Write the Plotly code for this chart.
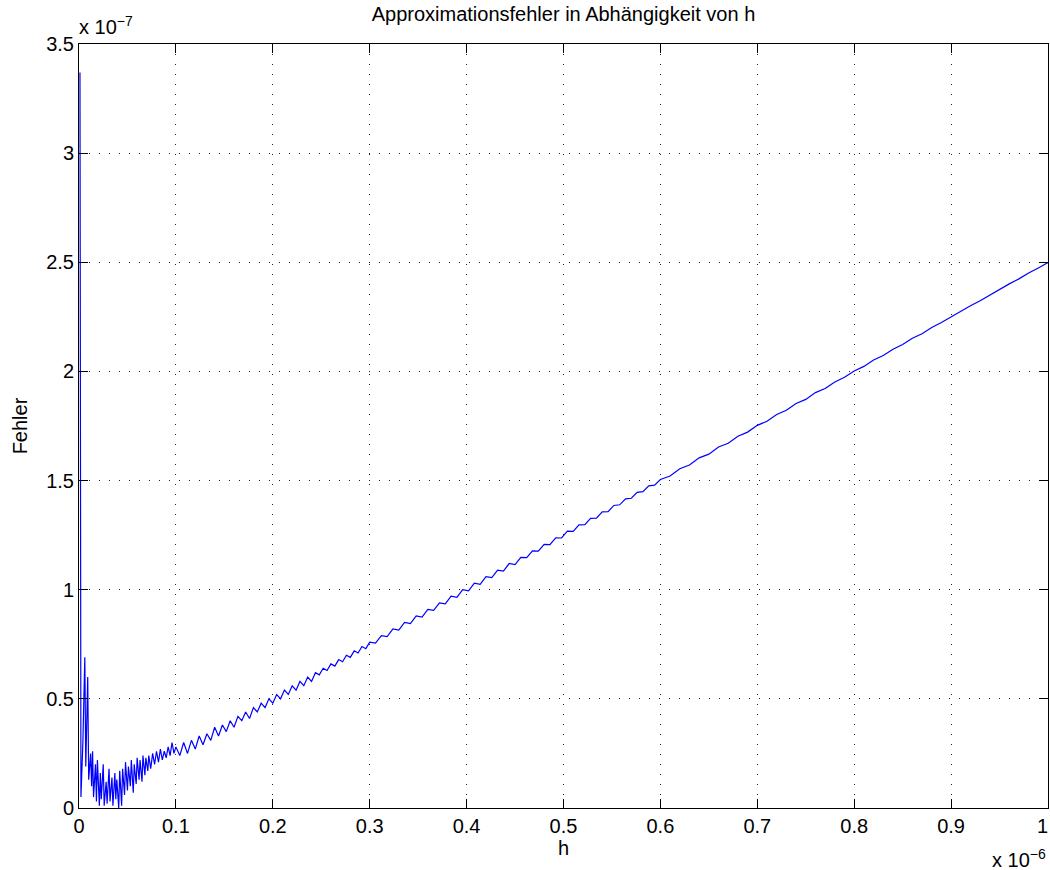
import plotly.graph_objects as go

# h values (x 1e-6) and error values (x 1e-7)
h_noisy = [0.001, 0.002, 0.004, 0.006, 0.007, 0.009, 0.010, 0.012, 0.013, 0.014,
           0.015, 0.017, 0.018, 0.019, 0.021, 0.022, 0.023, 0.025, 0.026, 0.028,
           0.029, 0.031, 0.032, 0.034, 0.035, 0.037, 0.038, 0.039, 0.041, 0.042,
           0.044, 0.045, 0.047, 0.048, 0.050, 0.051, 0.053, 0.054, 0.056, 0.057,
           0.059, 0.060, 0.062, 0.063, 0.065, 0.066, 0.068, 0.069, 0.071, 0.072,
           0.074, 0.076, 0.078, 0.080, 0.082, 0.084, 0.086, 0.088, 0.090, 0.092,
           0.094, 0.096, 0.098]
f_noisy = [3.37, 0.05, 0.30, 0.69, 0.19, 0.60, 0.13, 0.25, 0.10, 0.26,
           0.05, 0.20, 0.03, 0.22, 0.01, 0.16, 0.04, 0.20, 0.01, 0.12,
           0.02, 0.18, 0.03, 0.14, 0.01, 0.16, 0.04, 0.13, 0.00, 0.17,
           0.01, 0.18, 0.06, 0.21, 0.08, 0.19, 0.10, 0.22, 0.07, 0.20,
           0.11, 0.23, 0.13, 0.22, 0.12, 0.24, 0.15, 0.23, 0.17, 0.24,
           0.18, 0.25, 0.20, 0.26, 0.21, 0.27, 0.22, 0.26, 0.23, 0.28,
           0.24, 0.30, 0.25]

h_mid = [0.100, 0.104, 0.108, 0.112, 0.116, 0.120, 0.124, 0.128, 0.132, 0.136,
         0.140, 0.144, 0.148, 0.152, 0.156, 0.160, 0.164, 0.168, 0.172, 0.176,
         0.180, 0.184, 0.188, 0.192, 0.196, 0.200, 0.204, 0.208, 0.212, 0.216,
         0.220, 0.224, 0.228, 0.232, 0.236, 0.240, 0.244, 0.248, 0.252, 0.256,
         0.260, 0.264, 0.268, 0.272, 0.276, 0.280, 0.284, 0.288, 0.292, 0.296,
         0.300]
f_mid = [0.28, 0.24, 0.30, 0.25, 0.31, 0.27, 0.33, 0.29, 0.34, 0.31,
         0.37, 0.33, 0.38, 0.35, 0.40, 0.37, 0.42, 0.40, 0.44, 0.41,
         0.46, 0.44, 0.48, 0.46, 0.50, 0.48, 0.52, 0.50, 0.54, 0.52,
         0.56, 0.54, 0.58, 0.56, 0.60, 0.58, 0.62, 0.61, 0.64, 0.63,
         0.66, 0.65, 0.68, 0.67, 0.70, 0.69, 0.72, 0.71, 0.74, 0.73,
         0.76]

h_upper = [0.306, 0.312, 0.318, 0.324, 0.330, 0.336, 0.342, 0.348, 0.354, 0.360,
           0.366, 0.372, 0.378, 0.384, 0.390, 0.396, 0.402, 0.408, 0.414, 0.420,
           0.426, 0.432, 0.438, 0.444, 0.450, 0.456, 0.462, 0.468, 0.474, 0.480,
           0.486, 0.492, 0.498, 0.504, 0.510, 0.516, 0.522, 0.528, 0.534, 0.540,
           0.546, 0.552, 0.558, 0.564, 0.570, 0.576, 0.582, 0.588, 0.594, 0.600]
f_upper = [0.755, 0.790, 0.785, 0.820, 0.815, 0.850, 0.845, 0.880, 0.875, 0.910,
           0.905, 0.940, 0.935, 0.970, 0.965, 1.000, 0.995, 1.030, 1.025, 1.060,
           1.055, 1.090, 1.085, 1.120, 1.115, 1.148, 1.147, 1.178, 1.177, 1.208,
           1.207, 1.238, 1.237, 1.268, 1.267, 1.297, 1.298, 1.327, 1.328, 1.357,
           1.358, 1.386, 1.389, 1.416, 1.419, 1.446, 1.449, 1.476, 1.479, 1.505]

h_end = [0.61, 0.62, 0.63, 0.64, 0.65, 0.66, 0.67, 0.68, 0.69, 0.70,
         0.71, 0.72, 0.73, 0.74, 0.75, 0.76, 0.77, 0.78, 0.79, 0.80,
         0.81, 0.82, 0.83, 0.84, 0.85, 0.86, 0.87, 0.88, 0.89, 0.90,
         0.91, 0.92, 0.93, 0.94, 0.95, 0.96, 0.97, 0.98, 0.99, 1.00]
f_end = [1.521, 1.554, 1.571, 1.604, 1.621, 1.654, 1.671, 1.703, 1.722, 1.753,
         1.772, 1.803, 1.822, 1.853, 1.872, 1.903, 1.922, 1.952, 1.973, 2.002,
         2.023, 2.052, 2.073, 2.102, 2.123, 2.152, 2.173, 2.201, 2.224, 2.251,
         2.274, 2.301, 2.324, 2.351, 2.374, 2.401, 2.424, 2.451, 2.474, 2.499]

x_tickvals = [0, 0.1, 0.2, 0.3, 0.4, 0.5, 0.6, 0.7, 0.8, 0.9, 1.0]
x_ticktext = ["0", "0.1", "0.2", "0.3", "0.4", "0.5", "0.6", "0.7", "0.8", "0.9",
              "1\u00a0\u00a0"]
y_tickvals = [0, 0.5, 1, 1.5, 2, 2.5, 3, 3.5]
y_ticktext = ["0", "0.5", "1", "1.5", "2", "2.5", "3", "3.5"]

h_all = h_noisy + h_mid + h_upper + h_end
f_all = f_noisy + f_mid + f_upper + f_end

FONT = "Liberation Sans, Arial, Helvetica, sans-serif"
FS = 20

fig = go.Figure()
fig.add_trace(go.Scatter(x=h_all, y=f_all, mode="lines",
                         line=dict(color="#0000ff", width=1.2), showlegend=False))

axis_common = dict(
    showline=True, linecolor="black", linewidth=1, mirror="allticks",
    ticks="inside", ticklen=9, tickcolor="black", tickwidth=1,
    showgrid=True, gridcolor="#222222", gridwidth=1, griddash="1px,9px",
    zeroline=False, tickfont=dict(family=FONT, size=FS, color="black"),
    ticklabeloverflow="allow", automargin=False,
)

fig.update_xaxes(range=[0, 1], tickvals=x_tickvals, ticktext=x_ticktext,
                 title=dict(text="h", font=dict(family=FONT, size=FS, color="black"), standoff=0),
                 **axis_common)
fig.update_yaxes(range=[0, 3.5], tickvals=y_tickvals, ticktext=y_ticktext,
                 title=dict(text="Fehler", font=dict(family=FONT, size=FS, color="black"), standoff=13),
                 **axis_common)

fig.update_layout(
    width=1050, height=870,
    margin=dict(l=79, r=2, t=44, b=62, autoexpand=False),
    paper_bgcolor="white", plot_bgcolor="white",
    font=dict(family=FONT, size=FS, color="black"),
    title=dict(text="Approximationsfehler in Abhängigkeit von h",
               x=0.5, xanchor="center", xref="paper",
               y=1 - 14 / 870, yanchor="middle", yref="container",
               font=dict(family=FONT, size=FS, color="black")),
    annotations=[
        dict(text="x 10<sup>−7</sup>", xref="paper", yref="paper", x=0, y=1,
             xanchor="left", yanchor="bottom", showarrow=False, yshift=4,
             xshift=-2,
             font=dict(family=FONT, size=FS, color="black")),
        dict(text="x 10<sup>−6</sup>", xref="paper", yref="paper", x=1, y=0,
             xanchor="right", yanchor="top", showarrow=False, yshift=-36,
             font=dict(family=FONT, size=FS, color="black")),
    ],
)

fig.write_html("out.html", config={"displayModeBar": False},
               post_script="document.body.style.margin='0';document.body.style.overflow='hidden';")
